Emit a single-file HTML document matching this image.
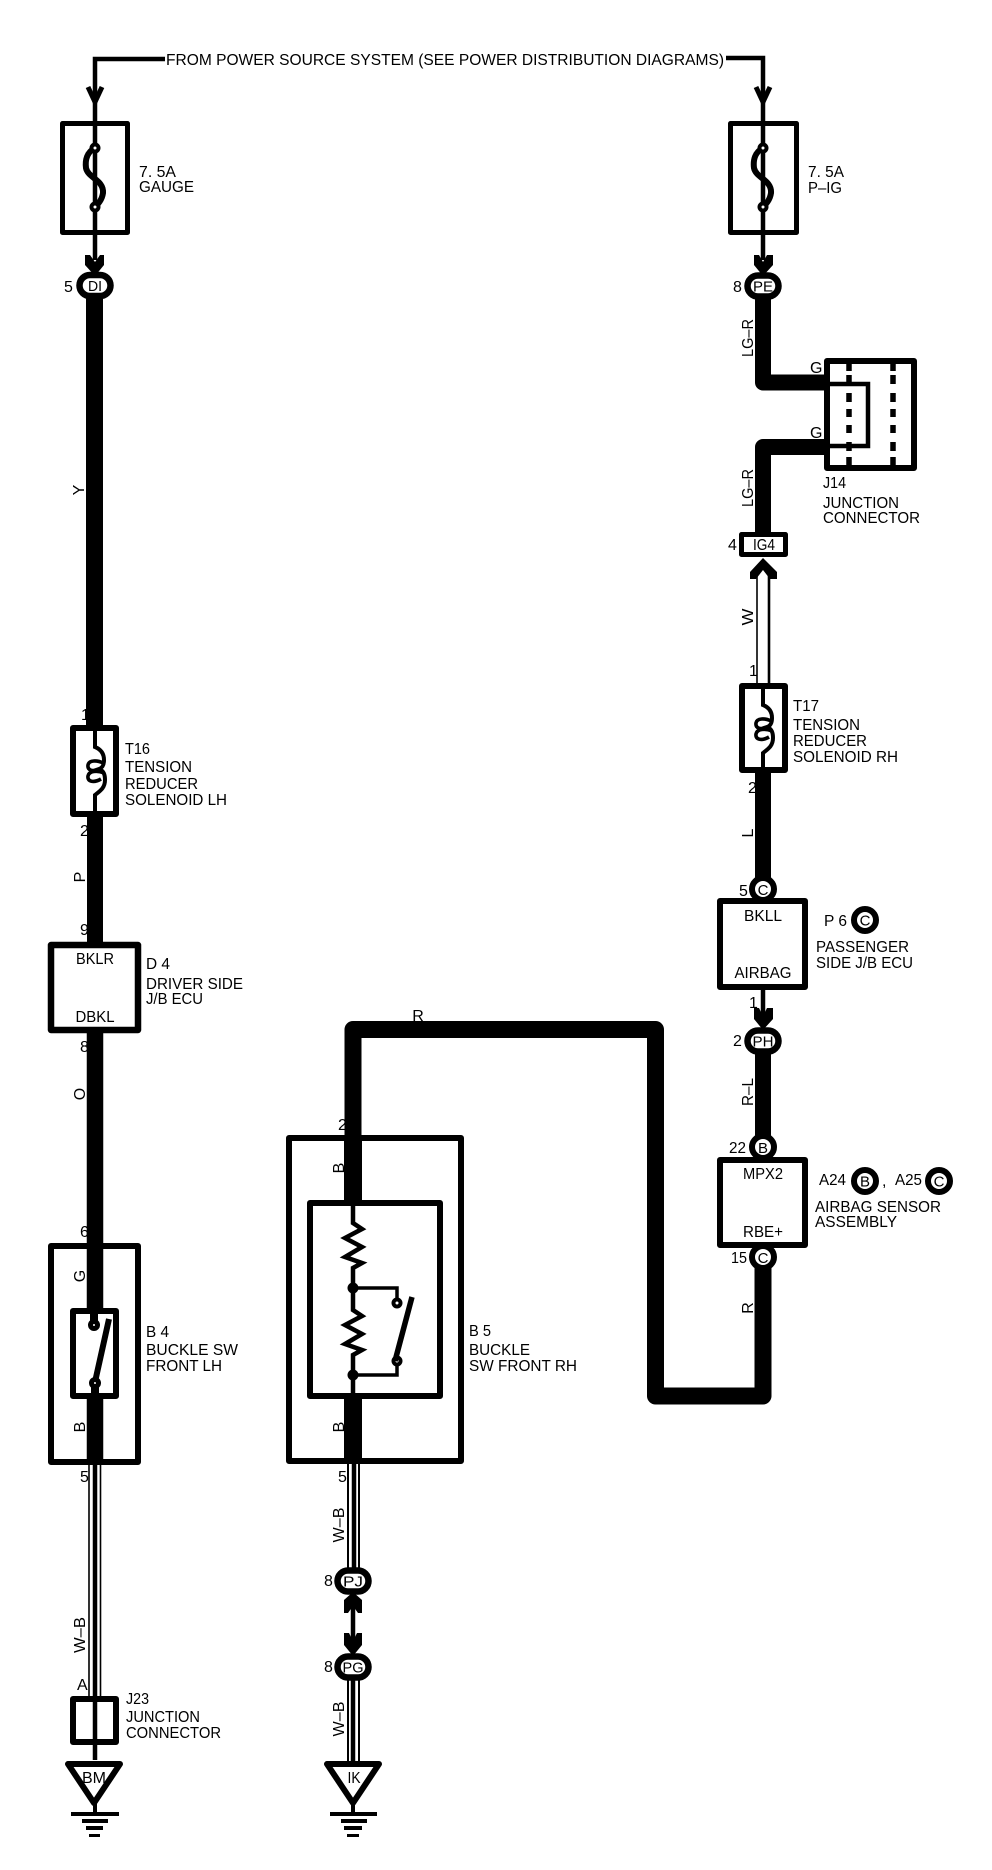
<!DOCTYPE html>
<html><head><meta charset="utf-8"><style>
html,body{margin:0;padding:0;background:#fff}
svg{display:block}
text{font-family:"Liberation Sans",sans-serif;font-size:16px;fill:#000}
.b{fill:none;stroke:#000;stroke-width:6;stroke-linejoin:round}
.f{fill:none;stroke:#000;stroke-width:5;stroke-linejoin:round}
.w{fill:none;stroke:#000;stroke-width:4.5}
.t{fill:none;stroke:#000;stroke-width:17}
.o{fill:#fff;stroke:#000;stroke-width:6.5}
.s{fill:#fff;stroke:#000;stroke-width:6}
.c{fill:#fff;stroke:#000;stroke-width:6}
.m{text-anchor:middle}
.l{font-size:14.5px}
</style></head><body>
<svg width="992" height="1870" viewBox="0 0 992 1870" xmlns="http://www.w3.org/2000/svg">
<rect width="992" height="1870" fill="#fff"/>

<!-- top feed -->
<path class="w" d="M165 59H95V260"/>
<path class="w" d="M726 58H763V260"/>
<text x="166" y="65" textLength="558" lengthAdjust="spacingAndGlyphs">FROM POWER SOURCE SYSTEM (SEE POWER DISTRIBUTION DIAGRAMS)</text>
<path d="M88 87L95 102L102 87" fill="none" stroke="#000" stroke-width="5"/>
<path d="M756 87L763 102L770 87" fill="none" stroke="#000" stroke-width="5"/>

<!-- fuses -->
<rect class="f" x="62.5" y="123.5" width="65" height="109"/>
<rect class="f" x="730.5" y="123.5" width="66" height="109"/>
<g fill="none" stroke="#000">
<path d="M95 148C87 152 85 160 86 168C88 178 104 180 103 193C102 200 98 204 95 207" stroke-width="6"/>
<circle cx="95" cy="148" r="3.5" fill="#fff" stroke-width="4"/>
<circle cx="95" cy="207" r="3.5" fill="#fff" stroke-width="4"/>
</g>
<g transform="translate(668,0)" fill="none" stroke="#000">
<path d="M95 148C87 152 85 160 86 168C88 178 104 180 103 193C102 200 98 204 95 207" stroke-width="6"/>
<circle cx="95" cy="148" r="3.5" fill="#fff" stroke-width="4"/>
<circle cx="95" cy="207" r="3.5" fill="#fff" stroke-width="4"/>
</g>
<text x="139" y="177" textLength="37" lengthAdjust="spacingAndGlyphs">7. 5A</text>
<text x="139" y="192" textLength="55" lengthAdjust="spacingAndGlyphs">GAUGE</text>
<text x="808" y="177" textLength="36" lengthAdjust="spacingAndGlyphs">7. 5A</text>
<text x="808" y="193" textLength="34" lengthAdjust="spacingAndGlyphs">P–IG</text>

<!-- left thick wires -->
<path class="t" d="M94.5 290V725"/>
<path class="t" d="M95 817V945" style="stroke-width:16"/>
<path class="t" d="M95 1030V1316" style="stroke-width:16.5"/>
<path class="t" d="M95 1396V1465" style="stroke-width:16.5"/>
<polygon points="85,255 90,255 95,262 100,255 104,255 104,265 95,276 85,265"/>
<rect class="o" x="79.5" y="275" width="31" height="21" rx="10.5"/>
<text x="64" y="292">5</text>
<text class="m l" x="95" y="291" textLength="14" lengthAdjust="spacingAndGlyphs">DI</text>
<text class="m" transform="translate(84,490) rotate(-90)">Y</text>

<!-- T16 -->
<rect class="b" x="73" y="728" width="43" height="86"/>
<g fill="none" stroke="#000" stroke-width="4">
<path d="M95 725V747C100 749 104 753 104 760C104 766 102 768 99 769C104 771 105 775 105 780C105 788 100 791 95 795V817"/>
<path d="M103 763C97 760 89 760 88 765C87 771 94 772 100 769M104 773C97 770 89 771 88 776C87 782 94 783 101 779" stroke-width="3.6"/>
</g>
<text x="81" y="720">1</text>
<text x="125" y="754" textLength="25" lengthAdjust="spacingAndGlyphs">T16</text>
<text x="125" y="772" textLength="67" lengthAdjust="spacingAndGlyphs">TENSION</text>
<text x="125" y="789" textLength="73" lengthAdjust="spacingAndGlyphs">REDUCER</text>
<text x="125" y="805" textLength="102" lengthAdjust="spacingAndGlyphs">SOLENOID LH</text>
<text x="80" y="836">2</text>
<text class="m" transform="translate(85,877) rotate(-90)">P</text>
<text x="80" y="935">9</text>

<!-- D4 -->
<rect class="b" x="51" y="945" width="87" height="85" style="stroke-width:6.5"/>
<text class="m" x="95" y="964" textLength="38" lengthAdjust="spacingAndGlyphs">BKLR</text>
<text class="m" x="95" y="1022" textLength="39" lengthAdjust="spacingAndGlyphs">DBKL</text>
<text x="146" y="969" textLength="24" lengthAdjust="spacingAndGlyphs">D 4</text>
<text x="146" y="989" textLength="97" lengthAdjust="spacingAndGlyphs">DRIVER SIDE</text>
<text x="146" y="1004" textLength="57" lengthAdjust="spacingAndGlyphs">J/B ECU</text>
<text x="80" y="1052">8</text>
<text class="m" transform="translate(85,1094) rotate(-90)">O</text>
<text x="80" y="1237">6</text>

<!-- B4 -->
<rect class="b" x="51" y="1246" width="87" height="216"/>
<rect class="b" x="73" y="1311" width="43" height="85" fill="#fff"/>
<rect x="76" y="1314" width="37" height="79" fill="#fff"/>
<path d="M94 1309V1322M95 1386V1397" stroke="#000" stroke-width="8"/>
<circle cx="94" cy="1325" r="3.5" fill="#fff" stroke="#000" stroke-width="5"/>
<circle cx="95" cy="1383" r="3.5" fill="#fff" stroke="#000" stroke-width="5"/>
<path d="M109 1319L95 1382" stroke="#000" stroke-width="6"/>
<text class="m" transform="translate(85,1276) rotate(-90)">G</text>
<text class="m" transform="translate(85,1427) rotate(-90)">B</text>
<text x="146" y="1337" textLength="23" lengthAdjust="spacingAndGlyphs">B 4</text>
<text x="146" y="1355" textLength="92" lengthAdjust="spacingAndGlyphs">BUCKLE SW</text>
<text x="146" y="1371" textLength="76" lengthAdjust="spacingAndGlyphs">FRONT LH</text>
<text x="80" y="1482">5</text>

<!-- left W-B -->
<path d="M89 1465V1696M100.5 1465V1696" stroke="#000" stroke-width="1.6"/>
<path d="M95 1465V1760" stroke="#000" stroke-width="4.5"/>
<text class="m" transform="translate(85,1635) rotate(-90)" textLength="36" lengthAdjust="spacingAndGlyphs">W–B</text>
<text x="77" y="1690">A</text>

<!-- J23 -->
<rect class="b" x="73" y="1699" width="43" height="43"/>
<text x="126" y="1704" textLength="23" lengthAdjust="spacingAndGlyphs">J23</text>
<text x="126" y="1722" textLength="74" lengthAdjust="spacingAndGlyphs">JUNCTION</text>
<text x="126" y="1738" textLength="95" lengthAdjust="spacingAndGlyphs">CONNECTOR</text>

<!-- ground left -->
<polygon points="68,1764 120,1764 94,1803" fill="#fff" stroke="#000" stroke-width="6" stroke-linejoin="round"/>
<text class="m" x="94" y="1783" textLength="24" lengthAdjust="spacingAndGlyphs">BM</text>
<path d="M95 1803V1814" stroke="#000" stroke-width="4"/>
<rect x="71" y="1812" width="48" height="4"/>
<rect x="82" y="1819" width="26" height="4"/>
<rect x="86" y="1826" width="17" height="4"/>
<rect x="89" y="1834" width="11" height="3"/>

<!-- right upper -->
<path class="t" d="M763 279V382.5H826" style="stroke-width:16;stroke-linejoin:round"/>
<path class="t" d="M826 447H763V532" style="stroke-width:16;stroke-linejoin:round"/>
<polygon points="754,255 759,255 763,262 767,255 773,255 773,265 763,276 754,265"/>
<rect class="o" x="747.5" y="275.5" width="31" height="21" rx="10.5"/>
<text x="733" y="292">8</text>
<text class="m l" x="763" y="291.5" textLength="20" lengthAdjust="spacingAndGlyphs">PE</text>
<text class="m" transform="translate(753,338) rotate(-90)" textLength="38" lengthAdjust="spacingAndGlyphs">LG–R</text>
<text class="m" transform="translate(753,488) rotate(-90)" textLength="38" lengthAdjust="spacingAndGlyphs">LG–R</text>

<!-- J14 -->
<rect class="b" x="827" y="361" width="87" height="107"/>
<path d="M826 384H868V446H826" fill="none" stroke="#000" stroke-width="4.5"/>
<path d="M849 363v8M849 375v9M849 393v9M849 409v8M849 425v8M849 442v9M849 457v9M893 363v8M893 375v9M893 393v9M893 409v8M893 425v8M893 442v9M893 457v9" stroke="#000" stroke-width="5.5"/>
<text x="810" y="373">G</text>
<text x="810" y="438">G</text>
<text x="823" y="488" textLength="23" lengthAdjust="spacingAndGlyphs">J14</text>
<text x="823" y="508" textLength="76" lengthAdjust="spacingAndGlyphs">JUNCTION</text>
<text x="823" y="523" textLength="97" lengthAdjust="spacingAndGlyphs">CONNECTOR</text>

<!-- IG4 -->
<rect class="f" x="741.5" y="534.5" width="44" height="20" fill="#fff"/>
<text x="728" y="550">4</text>
<text class="m" x="764" y="550" textLength="22" lengthAdjust="spacingAndGlyphs">IG4</text>

<!-- W wire -->
<path d="M757 575V683" stroke="#000" stroke-width="1.6"/>
<path d="M769 575V683" stroke="#000" stroke-width="2.6"/>
<polygon points="763,558 777,572 777,579 770,579 763,570 756,579 750,579 750,572"/>
<text class="m" transform="translate(753,617) rotate(-90)" textLength="17" lengthAdjust="spacingAndGlyphs">W</text>
<text x="749" y="676">1</text>

<!-- T17 -->
<rect class="b" x="742" y="686" width="43" height="84"/>
<g transform="translate(668,-42)" fill="none" stroke="#000" stroke-width="4">
<path d="M95 725V747C100 749 104 753 104 760C104 766 102 768 99 769C104 771 105 775 105 780C105 788 100 791 95 795V815"/>
<path d="M103 763C97 760 89 760 88 765C87 771 94 772 100 769M104 773C97 770 89 771 88 776C87 782 94 783 101 779" stroke-width="3.6"/>
</g>
<text x="793" y="711" textLength="26" lengthAdjust="spacingAndGlyphs">T17</text>
<text x="793" y="730" textLength="67" lengthAdjust="spacingAndGlyphs">TENSION</text>
<text x="793" y="746" textLength="74" lengthAdjust="spacingAndGlyphs">REDUCER</text>
<text x="793" y="762" textLength="105" lengthAdjust="spacingAndGlyphs">SOLENOID RH</text>
<text x="748" y="793">2</text>
<path class="t" d="M763 770V885" style="stroke-width:16"/>
<text class="m" transform="translate(753,833) rotate(-90)">L</text>

<!-- ECU P6 -->
<rect class="b" x="720" y="901" width="85" height="86"/>
<circle class="s" cx="763" cy="889" r="11"/>
<text x="739" y="896">5</text>
<text class="m" x="763" y="895" style="font-size:15px">C</text>
<text class="m" x="763" y="921" textLength="38" lengthAdjust="spacingAndGlyphs">BKLL</text>
<text class="m" x="763" y="978" textLength="57" lengthAdjust="spacingAndGlyphs">AIRBAG</text>
<text x="824" y="926" textLength="23" lengthAdjust="spacingAndGlyphs">P 6</text>
<circle class="c" cx="865" cy="920" r="11"/>
<text class="m" x="865" y="925.5" style="font-size:15px">C</text>
<text x="816" y="952" textLength="93" lengthAdjust="spacingAndGlyphs">PASSENGER</text>
<text x="816" y="968" textLength="97" lengthAdjust="spacingAndGlyphs">SIDE J/B ECU</text>

<path class="w" d="M763 990V1025"/>
<text x="749" y="1008">1</text>
<polygon points="754,1008 759,1008 763,1016 767,1008 773,1008 773,1019 763,1030 754,1019"/>
<path class="t" d="M763 1040V1140" style="stroke-width:16"/>
<rect class="o" x="747.5" y="1030.5" width="31" height="21" rx="10.5"/>
<text x="733" y="1046">2</text>
<text class="m l" x="763" y="1046.5" textLength="21" lengthAdjust="spacingAndGlyphs">PH</text>
<text class="m" transform="translate(753,1092) rotate(-90)" textLength="28" lengthAdjust="spacingAndGlyphs">R–L</text>

<!-- Airbag sensor -->
<rect class="b" x="720" y="1160" width="85" height="85"/>
<circle class="s" cx="763" cy="1147" r="11"/>
<circle class="s" cx="763" cy="1257" r="11"/>
<text x="729" y="1153" textLength="17" lengthAdjust="spacingAndGlyphs">22</text>
<text class="m" x="763" y="1153" style="font-size:15px">B</text>
<text class="m" x="763" y="1179" textLength="40" lengthAdjust="spacingAndGlyphs">MPX2</text>
<text class="m" x="763" y="1237" textLength="40" lengthAdjust="spacingAndGlyphs">RBE+</text>
<text x="731" y="1263" textLength="16" lengthAdjust="spacingAndGlyphs">15</text>
<text class="m" x="763" y="1263" style="font-size:15px">C</text>
<text x="819" y="1185" textLength="27" lengthAdjust="spacingAndGlyphs">A24</text>
<circle class="c" cx="865" cy="1181" r="11"/>
<text class="m" x="865" y="1186.5" style="font-size:15px">B</text>
<text x="882" y="1186">,</text>
<text x="895" y="1185" textLength="27" lengthAdjust="spacingAndGlyphs">A25</text>
<circle class="c" cx="939" cy="1181" r="11"/>
<text class="m" x="939" y="1186.5" style="font-size:15px">C</text>
<text x="815" y="1212" textLength="126" lengthAdjust="spacingAndGlyphs">AIRBAG SENSOR</text>
<text x="815" y="1227" textLength="82" lengthAdjust="spacingAndGlyphs">ASSEMBLY</text>
<text class="m" transform="translate(753,1308) rotate(-90)">R</text>

<!-- big red wire -->
<path d="M763 1268V1396H655.5V1029.5H353V1200" fill="none" stroke="#000" stroke-width="17" stroke-linejoin="round"/>
<text class="m" x="418" y="1021">R</text>
<text x="338" y="1130">2</text>
<text class="m" transform="translate(344,1168) rotate(-90)">B</text>

<!-- B5 -->
<rect class="b" x="289" y="1138" width="172" height="323"/>
<rect class="b" x="310" y="1203" width="130" height="193"/>
<path d="M353 1135V1203M353 1399V1464" stroke="#000" stroke-width="18"/>
<path d="M353 1206V1223L362 1229L345 1238L362 1247L345 1257L362 1263L353 1268V1310L362 1316L345 1325L362 1334L345 1344L362 1350L353 1355V1397" fill="none" stroke="#000" stroke-width="4.5"/>
<circle cx="353" cy="1288" r="5.5"/>
<circle cx="353" cy="1375" r="5.5"/>
<path d="M353 1288H397V1303M353 1375H397V1361" fill="none" stroke="#000" stroke-width="3.5"/>
<circle cx="397" cy="1303" r="3.5" fill="#fff" stroke="#000" stroke-width="4"/>
<circle cx="397" cy="1361" r="3.5" fill="#fff" stroke="#000" stroke-width="4"/>
<path d="M412 1297L395 1361" stroke="#000" stroke-width="5.5"/>
<text class="m" transform="translate(344,1427) rotate(-90)">B</text>
<text x="469" y="1336" textLength="22" lengthAdjust="spacingAndGlyphs">B 5</text>
<text x="469" y="1355" textLength="61" lengthAdjust="spacingAndGlyphs">BUCKLE</text>
<text x="469" y="1371" textLength="108" lengthAdjust="spacingAndGlyphs">SW FRONT RH</text>
<text x="338" y="1482">5</text>

<!-- B5 lower -->
<path d="M348 1464V1572M359 1464V1572M348 1675V1762M359 1675V1762" stroke="#000" stroke-width="2"/>
<path d="M354 1464V1572M353 1675V1762" stroke="#000" stroke-width="4.5"/>
<text class="m" transform="translate(344,1525) rotate(-90)" textLength="35" lengthAdjust="spacingAndGlyphs">W–B</text>
<rect class="o" x="337.5" y="1570.5" width="31" height="21" rx="10.5"/>
<text x="324" y="1586">8</text>
<text class="m l" x="353" y="1586.5" textLength="20" lengthAdjust="spacingAndGlyphs">PJ</text>
<path class="w" d="M353 1595V1652"/>
<polygon points="353,1592 362,1600 362,1613 358,1613 353,1606 348,1613 344,1613 344,1600"/>
<polygon points="344,1633 349,1633 353,1641 357,1633 362,1633 362,1645 353,1656 344,1645"/>
<rect class="o" x="337.5" y="1656.5" width="31" height="21" rx="10.5"/>
<text x="324" y="1672">8</text>
<text class="m l" x="353" y="1672.5" textLength="21" lengthAdjust="spacingAndGlyphs">PG</text>
<text class="m" transform="translate(344,1719) rotate(-90)" textLength="35" lengthAdjust="spacingAndGlyphs">W–B</text>

<!-- ground right -->
<polygon points="327,1764 379,1764 353,1803" fill="#fff" stroke="#000" stroke-width="6" stroke-linejoin="round"/>
<text class="m" x="354" y="1783" textLength="13" lengthAdjust="spacingAndGlyphs">IK</text>
<path d="M353 1803V1814" stroke="#000" stroke-width="4"/>
<rect x="330" y="1812" width="47" height="4"/>
<rect x="341" y="1819" width="26" height="4"/>
<rect x="344" y="1826" width="18" height="4"/>
<rect x="347" y="1834" width="12" height="3"/>
</svg>
</body></html>
